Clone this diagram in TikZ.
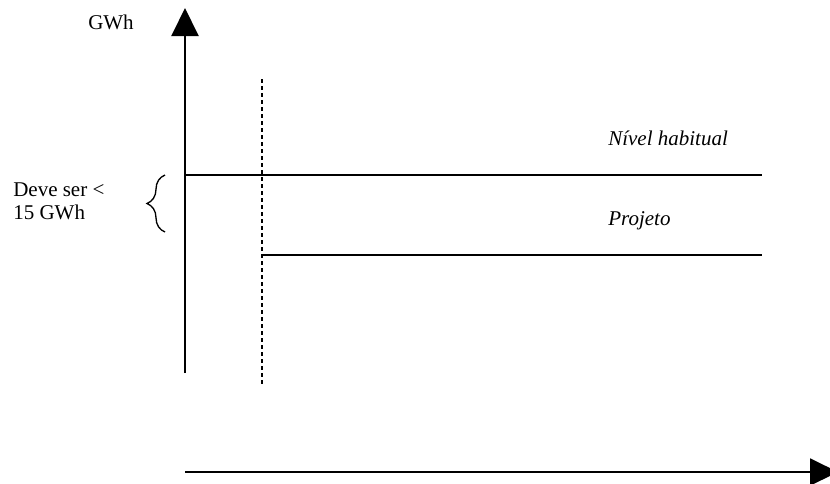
\documentclass[tikz,border=0pt]{standalone}
\usepackage{fontspec}
\setmainfont{Liberation Serif}
\usetikzlibrary{arrows.meta,decorations.pathreplacing}

\begin{document}
\begin{tikzpicture}[x=0.75pt,y=-0.75pt,>={Triangle[length=21pt,width=20.25pt]},
  axis/.style={line width=1.5pt},
  level/.style={line width=1.5pt},
  marker/.style={line width=1.5pt,dash pattern=on 3pt off 2.25pt},
  lbl/.style={anchor=base west,inner sep=0pt,font=\fontsize{15.75}{19}\selectfont},
  every node/.style={inner sep=0pt}]
  \useasboundingbox (0,0) rectangle (830,483);
  % axes
  \coordinate (origin) at (185,373);
  \coordinate (ytop) at (185,8);
  \coordinate (xstart) at (185,472);
  \coordinate (xend) at (838,472);
  \draw[axis,->] (origin) -- (ytop);
  \draw[axis,->] (xstart) -- (xend);
  \node[lbl,anchor=base] (gwh) at (111,29) {GWh};
  % levels
  \coordinate (habA) at (185,175);
  \coordinate (habB) at (762,175);
  \coordinate (projA) at (262,255);
  \coordinate (projB) at (762,255);
  \draw[level] (habA) -- (habB);
  \draw[level] (projA) -- (projB);
  \node[lbl,font=\fontsize{15.75}{19}\selectfont\itshape] (habitual) at (608,145) {Nível habitual};
  \node[lbl,font=\fontsize{15.75}{19}\selectfont\itshape] (projeto) at (608,225) {Projeto};
  % start of the project
  \coordinate (markTop) at (262,79);
  \coordinate (markBot) at (262,384);
  \draw[marker] (markTop) -- (markBot);
  % difference
  \coordinate (braceBot) at (165,232);
  \coordinate (braceTop) at (165,175);
  \draw[line width=1pt,decorate,decoration={brace,amplitude=13.5pt}] (braceBot) -- (braceTop);
  \node[lbl] (deve) at (13,196) {Deve ser <};
  \node[lbl] (limite) at (13,219) {15 GWh};
\end{tikzpicture}
\end{document}
